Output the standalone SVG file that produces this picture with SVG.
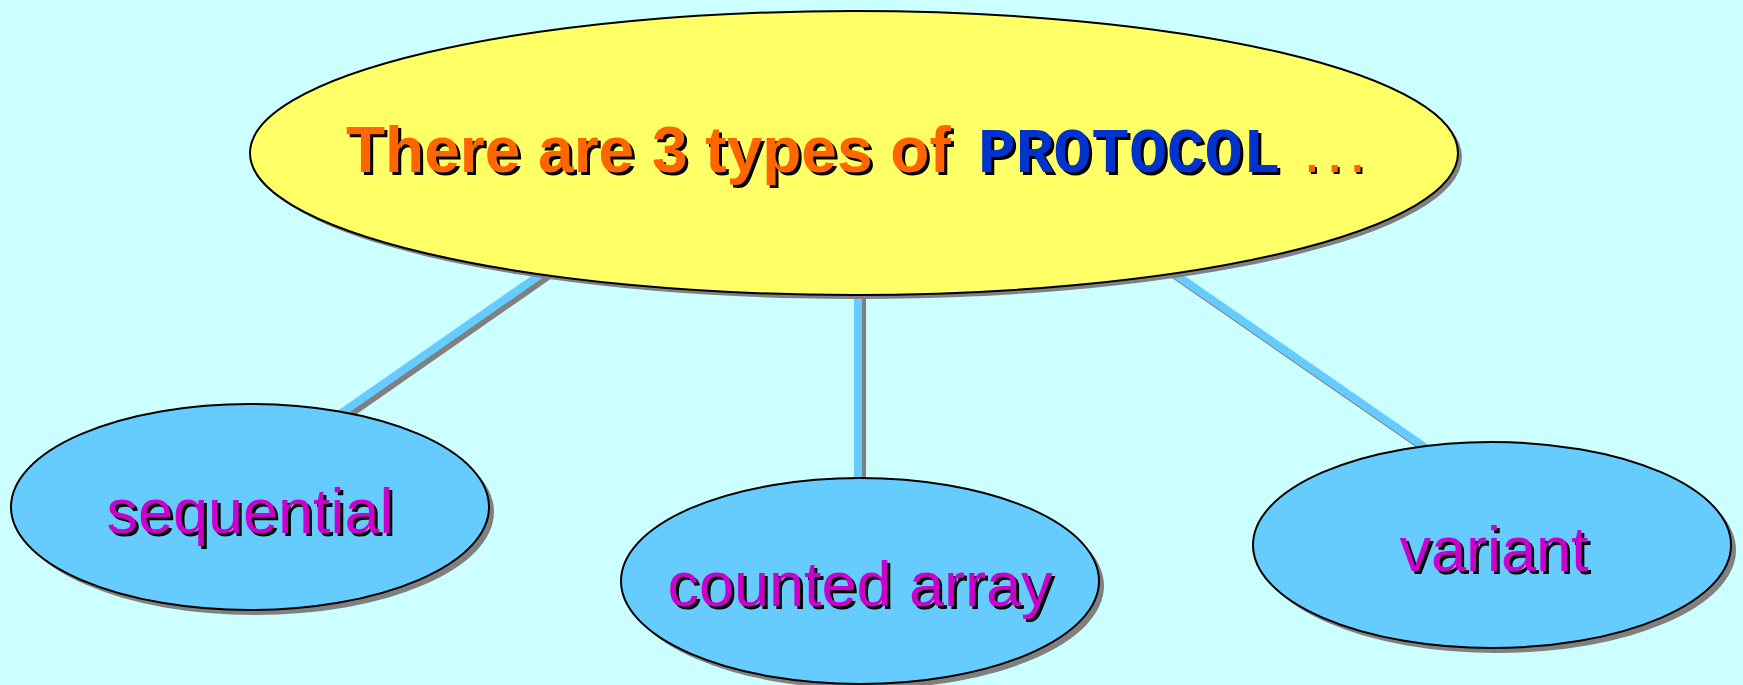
<svg xmlns="http://www.w3.org/2000/svg" width="1743" height="685" viewBox="0 0 1743 685">
<style>
.bg{fill:#CCFFFF}
.shadow{fill:#808080;stroke:none}
.main{fill:#FFFF66;stroke:#000;stroke-width:2}
.sub{fill:#66CCFF;stroke:#000;stroke-width:2}
.lnS{stroke:#808080;stroke-width:8;fill:none}
.ln{stroke:#66CCFF;stroke-width:8;fill:none}
.t1{font-family:"Liberation Sans",Arial,sans-serif;font-weight:bold;font-size:64px}
.dots{font-family:"Liberation Sans",Arial,sans-serif;font-size:64px;letter-spacing:5px}
.mono{font-family:"Courier New","Liberation Mono",monospace;font-weight:bold;font-size:63px}
.lbl{font-family:"Liberation Sans",Arial,sans-serif;font-size:63px;text-anchor:middle}
.ts{fill:#000}
.orange{fill:#FF6600}
.blue{fill:#0033CC}
.mag{fill:#CC00CC}
</style>
<rect class="bg" x="0" y="0" width="1743" height="685"/>
<g id="connectors">
  <line class="lnS" x1="571" y1="260" x2="324" y2="432"/>
  <line class="ln" x1="567" y1="256" x2="320" y2="428"/>
  <line class="lnS" x1="862" y1="270" x2="862" y2="500"/>
  <line class="ln" x1="858" y1="266" x2="858" y2="496"/>
  <line class="lnS" x1="1153" y1="260" x2="1456" y2="470"/>
  <line class="ln" x1="1149" y1="256" x2="1452" y2="466"/>
</g>
<g id="node-main">
  <ellipse class="shadow" cx="858" cy="157" rx="604" ry="142"/>
  <ellipse class="main" cx="854" cy="153" rx="604" ry="142"/>
  <text class="t1 ts" x="349" y="175">There are 3 types of</text>
  <text class="t1 orange" x="346" y="172">There are 3 types of</text>
  <text class="mono ts" x="981" y="175">PROTOCOL</text>
  <text class="mono blue" x="978" y="172">PROTOCOL</text>
  <text class="dots ts" x="1305" y="174">...</text>
  <text class="dots orange" x="1303" y="172">...</text>
</g>
<g id="node-sequential">
  <ellipse class="shadow" cx="255" cy="512" rx="239" ry="103"/>
  <ellipse class="sub" cx="250" cy="507" rx="239" ry="103"/>
  <text class="lbl ts" x="253" y="536">sequential</text>
  <text class="lbl mag" x="250" y="533">sequential</text>
</g>
<g id="node-counted">
  <ellipse class="shadow" cx="865" cy="586" rx="239" ry="103"/>
  <ellipse class="sub" cx="860" cy="581" rx="239" ry="103"/>
  <text class="lbl ts" x="863" y="609">counted array</text>
  <text class="lbl mag" x="860" y="606">counted array</text>
</g>
<g id="node-variant">
  <ellipse class="shadow" cx="1497" cy="550" rx="239" ry="103"/>
  <ellipse class="sub" cx="1492" cy="545" rx="239" ry="103"/>
  <text class="lbl ts" x="1497" y="574">variant</text>
  <text class="lbl mag" x="1494" y="571">variant</text>
</g>
</svg>
